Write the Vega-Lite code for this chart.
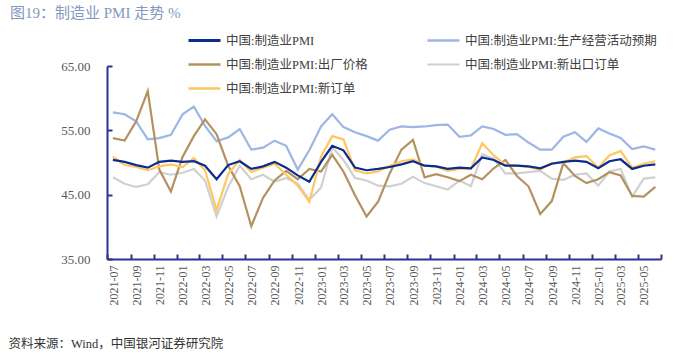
{
  "$schema": "https://vega.github.io/schema/vega-lite/v6.json",
  "width": 554,
  "height": 193,
  "autosize": {"type": "none"},
  "padding": {"left": 107, "top": 66, "right": 39, "bottom": 94},
  "background": "white",
  "title": {
    "text": "图19：制造业 PMI 走势  %",
    "anchor": "start",
    "frame": "group",
    "dx": -97,
    "dy": 2,
    "font": "Liberation Serif, Noto Sans CJK SC",
    "fontSize": 15,
    "fontWeight": "normal",
    "color": "#8497C0"
  },
  "data": {
    "values": [
      {"month": "2021-07", "中国:制造业PMI": 50.4, "中国:制造业PMI:生产经营活动预期": 57.8, "中国:制造业PMI:出厂价格": 53.8, "中国:制造业PMI:新出口订单": 47.7, "中国:制造业PMI:新订单": 50.9},
      {"month": "2021-08", "中国:制造业PMI": 50.1, "中国:制造业PMI:生产经营活动预期": 57.5, "中国:制造业PMI:出厂价格": 53.4, "中国:制造业PMI:新出口订单": 46.7, "中国:制造业PMI:新订单": 49.6},
      {"month": "2021-09", "中国:制造业PMI": 49.6, "中国:制造业PMI:生产经营活动预期": 56.4, "中国:制造业PMI:出厂价格": 56.4, "中国:制造业PMI:新出口订单": 46.2, "中国:制造业PMI:新订单": 49.3},
      {"month": "2021-10", "中国:制造业PMI": 49.2, "中国:制造业PMI:生产经营活动预期": 53.6, "中国:制造业PMI:出厂价格": 61.1, "中国:制造业PMI:新出口订单": 46.6, "中国:制造业PMI:新订单": 48.8},
      {"month": "2021-11", "中国:制造业PMI": 50.1, "中国:制造业PMI:生产经营活动预期": 53.8, "中国:制造业PMI:出厂价格": 48.9, "中国:制造业PMI:新出口订单": 48.5, "中国:制造业PMI:新订单": 49.4},
      {"month": "2021-12", "中国:制造业PMI": 50.3, "中国:制造业PMI:生产经营活动预期": 54.3, "中国:制造业PMI:出厂价格": 45.5, "中国:制造业PMI:新出口订单": 48.1, "中国:制造业PMI:新订单": 49.7},
      {"month": "2022-01", "中国:制造业PMI": 50.1, "中国:制造业PMI:生产经营活动预期": 57.5, "中国:制造业PMI:出厂价格": 50.9, "中国:制造业PMI:新出口订单": 48.4, "中国:制造业PMI:新订单": 49.3},
      {"month": "2022-02", "中国:制造业PMI": 50.2, "中国:制造业PMI:生产经营活动预期": 58.7, "中国:制造业PMI:出厂价格": 54.1, "中国:制造业PMI:新出口订单": 49.0, "中国:制造业PMI:新订单": 50.7},
      {"month": "2022-03", "中国:制造业PMI": 49.5, "中国:制造业PMI:生产经营活动预期": 55.7, "中国:制造业PMI:出厂价格": 56.7, "中国:制造业PMI:新出口订单": 47.2, "中国:制造业PMI:新订单": 48.8},
      {"month": "2022-04", "中国:制造业PMI": 47.4, "中国:制造业PMI:生产经营活动预期": 53.3, "中国:制造业PMI:出厂价格": 54.4, "中国:制造业PMI:新出口订单": 41.6, "中国:制造业PMI:新订单": 42.6},
      {"month": "2022-05", "中国:制造业PMI": 49.6, "中国:制造业PMI:生产经营活动预期": 53.9, "中国:制造业PMI:出厂价格": 49.5, "中国:制造业PMI:新出口订单": 46.2, "中国:制造业PMI:新订单": 48.2},
      {"month": "2022-06", "中国:制造业PMI": 50.2, "中国:制造业PMI:生产经营活动预期": 55.2, "中国:制造业PMI:出厂价格": 46.3, "中国:制造业PMI:新出口订单": 49.5, "中国:制造业PMI:新订单": 50.4},
      {"month": "2022-07", "中国:制造业PMI": 49.0, "中国:制造业PMI:生产经营活动预期": 52.0, "中国:制造业PMI:出厂价格": 40.1, "中国:制造业PMI:新出口订单": 47.4, "中国:制造业PMI:新订单": 48.5},
      {"month": "2022-08", "中国:制造业PMI": 49.4, "中国:制造业PMI:生产经营活动预期": 52.3, "中国:制造业PMI:出厂价格": 44.5, "中国:制造业PMI:新出口订单": 48.1, "中国:制造业PMI:新订单": 49.2},
      {"month": "2022-09", "中国:制造业PMI": 50.1, "中国:制造业PMI:生产经营活动预期": 53.4, "中国:制造业PMI:出厂价格": 47.2, "中国:制造业PMI:新出口订单": 47.0, "中国:制造业PMI:新订单": 49.8},
      {"month": "2022-10", "中国:制造业PMI": 49.2, "中国:制造业PMI:生产经营活动预期": 52.6, "中国:制造业PMI:出厂价格": 48.7, "中国:制造业PMI:新出口订单": 47.6, "中国:制造业PMI:新订单": 48.1},
      {"month": "2022-11", "中国:制造业PMI": 48.0, "中国:制造业PMI:生产经营活动预期": 48.9, "中国:制造业PMI:出厂价格": 47.4, "中国:制造业PMI:新出口订单": 46.7, "中国:制造业PMI:新订单": 46.4},
      {"month": "2022-12", "中国:制造业PMI": 47.0, "中国:制造业PMI:生产经营活动预期": 51.9, "中国:制造业PMI:出厂价格": 49.0, "中国:制造业PMI:新出口订单": 44.2, "中国:制造业PMI:新订单": 43.9},
      {"month": "2023-01", "中国:制造业PMI": 50.1, "中国:制造业PMI:生产经营活动预期": 55.6, "中国:制造业PMI:出厂价格": 48.6, "中国:制造业PMI:新出口订单": 46.1, "中国:制造业PMI:新订单": 50.9},
      {"month": "2023-02", "中国:制造业PMI": 52.6, "中国:制造业PMI:生产经营活动预期": 57.5, "中国:制造业PMI:出厂价格": 51.2, "中国:制造业PMI:新出口订单": 52.4, "中国:制造业PMI:新订单": 54.1},
      {"month": "2023-03", "中国:制造业PMI": 51.9, "中国:制造业PMI:生产经营活动预期": 55.5, "中国:制造业PMI:出厂价格": 48.6, "中国:制造业PMI:新出口订单": 50.4, "中国:制造业PMI:新订单": 53.6},
      {"month": "2023-04", "中国:制造业PMI": 49.2, "中国:制造业PMI:生产经营活动预期": 54.7, "中国:制造业PMI:出厂价格": 44.9, "中国:制造业PMI:新出口订单": 47.6, "中国:制造业PMI:新订单": 48.8},
      {"month": "2023-05", "中国:制造业PMI": 48.8, "中国:制造业PMI:生产经营活动预期": 54.1, "中国:制造业PMI:出厂价格": 41.6, "中国:制造业PMI:新出口订单": 47.2, "中国:制造业PMI:新订单": 48.3},
      {"month": "2023-06", "中国:制造业PMI": 49.0, "中国:制造业PMI:生产经营活动预期": 53.4, "中国:制造业PMI:出厂价格": 43.9, "中国:制造业PMI:新出口订单": 46.4, "中国:制造业PMI:新订单": 48.6},
      {"month": "2023-07", "中国:制造业PMI": 49.3, "中国:制造业PMI:生产经营活动预期": 55.1, "中国:制造业PMI:出厂价格": 48.3, "中国:制造业PMI:新出口订单": 46.3, "中国:制造业PMI:新订单": 49.5},
      {"month": "2023-08", "中国:制造业PMI": 49.7, "中国:制造业PMI:生产经营活动预期": 55.6, "中国:制造业PMI:出厂价格": 52.0, "中国:制造业PMI:新出口订单": 46.7, "中国:制造业PMI:新订单": 50.2},
      {"month": "2023-09", "中国:制造业PMI": 50.2, "中国:制造业PMI:生产经营活动预期": 55.5, "中国:制造业PMI:出厂价格": 53.5, "中国:制造业PMI:新出口订单": 47.8, "中国:制造业PMI:新订单": 50.5},
      {"month": "2023-10", "中国:制造业PMI": 49.5, "中国:制造业PMI:生产经营活动预期": 55.6, "中国:制造业PMI:出厂价格": 47.7, "中国:制造业PMI:新出口订单": 46.8, "中国:制造业PMI:新订单": 49.5},
      {"month": "2023-11", "中国:制造业PMI": 49.4, "中国:制造业PMI:生产经营活动预期": 55.8, "中国:制造业PMI:出厂价格": 48.2, "中国:制造业PMI:新出口订单": 46.3, "中国:制造业PMI:新订单": 49.4},
      {"month": "2023-12", "中国:制造业PMI": 49.0, "中国:制造业PMI:生产经营活动预期": 55.9, "中国:制造业PMI:出厂价格": 47.7, "中国:制造业PMI:新出口订单": 45.8, "中国:制造业PMI:新订单": 48.7},
      {"month": "2024-01", "中国:制造业PMI": 49.2, "中国:制造业PMI:生产经营活动预期": 54.0, "中国:制造业PMI:出厂价格": 47.1, "中国:制造业PMI:新出口订单": 47.2, "中国:制造业PMI:新订单": 49.0},
      {"month": "2024-02", "中国:制造业PMI": 49.1, "中国:制造业PMI:生产经营活动预期": 54.2, "中国:制造业PMI:出厂价格": 48.1, "中国:制造业PMI:新出口订单": 46.3, "中国:制造业PMI:新订单": 49.0},
      {"month": "2024-03", "中国:制造业PMI": 50.8, "中国:制造业PMI:生产经营活动预期": 55.6, "中国:制造业PMI:出厂价格": 47.4, "中国:制造业PMI:新出口订单": 51.3, "中国:制造业PMI:新订单": 53.0},
      {"month": "2024-04", "中国:制造业PMI": 50.4, "中国:制造业PMI:生产经营活动预期": 55.2, "中国:制造业PMI:出厂价格": 49.1, "中国:制造业PMI:新出口订单": 50.6, "中国:制造业PMI:新订单": 51.1},
      {"month": "2024-05", "中国:制造业PMI": 49.5, "中国:制造业PMI:生产经营活动预期": 54.3, "中国:制造业PMI:出厂价格": 50.4, "中国:制造业PMI:新出口订单": 48.3, "中国:制造业PMI:新订单": 49.6},
      {"month": "2024-06", "中国:制造业PMI": 49.5, "中国:制造业PMI:生产经营活动预期": 54.4, "中国:制造业PMI:出厂价格": 47.9, "中国:制造业PMI:新出口订单": 48.3, "中国:制造业PMI:新订单": 49.5},
      {"month": "2024-07", "中国:制造业PMI": 49.4, "中国:制造业PMI:生产经营活动预期": 53.1, "中国:制造业PMI:出厂价格": 46.3, "中国:制造业PMI:新出口订单": 48.5, "中国:制造业PMI:新订单": 49.3},
      {"month": "2024-08", "中国:制造业PMI": 49.1, "中国:制造业PMI:生产经营活动预期": 52.0, "中国:制造业PMI:出厂价格": 42.0, "中国:制造业PMI:新出口订单": 48.7, "中国:制造业PMI:新订单": 48.9},
      {"month": "2024-09", "中国:制造业PMI": 49.8, "中国:制造业PMI:生产经营活动预期": 52.0, "中国:制造业PMI:出厂价格": 44.0, "中国:制造业PMI:新出口订单": 47.5, "中国:制造业PMI:新订单": 49.9},
      {"month": "2024-10", "中国:制造业PMI": 50.1, "中国:制造业PMI:生产经营活动预期": 54.0, "中国:制造业PMI:出厂价格": 49.9, "中国:制造业PMI:新出口订单": 47.3, "中国:制造业PMI:新订单": 50.0},
      {"month": "2024-11", "中国:制造业PMI": 50.3, "中国:制造业PMI:生产经营活动预期": 54.7, "中国:制造业PMI:出厂价格": 47.9, "中国:制造业PMI:新出口订单": 48.1, "中国:制造业PMI:新订单": 50.8},
      {"month": "2024-12", "中国:制造业PMI": 50.1, "中国:制造业PMI:生产经营活动预期": 53.2, "中国:制造业PMI:出厂价格": 46.8, "中国:制造业PMI:新出口订单": 48.3, "中国:制造业PMI:新订单": 51.0},
      {"month": "2025-01", "中国:制造业PMI": 49.1, "中国:制造业PMI:生产经营活动预期": 55.3, "中国:制造业PMI:出厂价格": 47.4, "中国:制造业PMI:新出口订单": 46.4, "中国:制造业PMI:新订单": 49.2},
      {"month": "2025-02", "中国:制造业PMI": 50.2, "中国:制造业PMI:生产经营活动预期": 54.5, "中国:制造业PMI:出厂价格": 48.5, "中国:制造业PMI:新出口订单": 48.6, "中国:制造业PMI:新订单": 51.1},
      {"month": "2025-03", "中国:制造业PMI": 50.5, "中国:制造业PMI:生产经营活动预期": 53.8, "中国:制造业PMI:出厂价格": 48.0, "中国:制造业PMI:新出口订单": 49.0, "中国:制造业PMI:新订单": 51.8},
      {"month": "2025-04", "中国:制造业PMI": 49.0, "中国:制造业PMI:生产经营活动预期": 52.1, "中国:制造业PMI:出厂价格": 44.8, "中国:制造业PMI:新出口订单": 44.7, "中国:制造业PMI:新订单": 49.2},
      {"month": "2025-05", "中国:制造业PMI": 49.5, "中国:制造业PMI:生产经营活动预期": 52.5, "中国:制造业PMI:出厂价格": 44.7, "中国:制造业PMI:新出口订单": 47.5, "中国:制造业PMI:新订单": 49.8},
      {"month": "2025-06", "中国:制造业PMI": 49.7, "中国:制造业PMI:生产经营活动预期": 52.0, "中国:制造业PMI:出厂价格": 46.2, "中国:制造业PMI:新出口订单": 47.7, "中国:制造业PMI:新订单": 50.2}
    ]
  },
  "transform": [
    {"fold": ["中国:制造业PMI:新出口订单", "中国:制造业PMI:生产经营活动预期", "中国:制造业PMI:出厂价格", "中国:制造业PMI:新订单", "中国:制造业PMI"], "as": ["series", "value"]}
  ],
  "mark": {"type": "line", "strokeWidth": 2.2},
  "encoding": {
    "x": {
      "field": "month",
      "timeUnit": "utcyearmonth",
      "type": "temporal",
      "bandPosition": 0.5,
      "scale": {
        "type": "utc",
        "domain": [{"year": 2021, "month": 7, "date": 1, "utc": true}, {"year": 2025, "month": 7, "date": 1, "utc": true}],
        "nice": false
      },
      "axis": {
        "title": "资料来源：Wind，中国银河证券研究院",
        "titleX": -99,
        "titleY": 84,
        "titleAlign": "left",
        "titleAnchor": "start",
        "titleBaseline": "middle",
        "titleAngle": 0,
        "titleFont": "Liberation Serif, Noto Sans CJK SC",
        "titleFontSize": 12.5,
        "titleFontWeight": "normal",
        "titleColor": "#333333",
        "tickCount": {"interval": "month", "step": 2},
        "labelExpr": "utcFormat(datum.value, '%Y-%m') == '2025-07' ? '' : utcFormat(datum.value, '%Y-%m')",
        "labelAngle": 270,
        "labelOffset": 6,
        "labelFlush": false,
        "labelOverlap": false,
        "labelFont": "Liberation Serif",
        "labelFontSize": 12,
        "labelColor": "#595959",
        "labelPadding": 11,
        "tickSize": -5,
        "tickWidth": 2,
        "tickColor": "#2E3192",
        "domainColor": "#2E3192",
        "domainWidth": 2,
        "grid": false
      }
    },
    "y": {
      "field": "value",
      "type": "quantitative",
      "scale": {"domain": [35, 65], "nice": false, "zero": false},
      "axis": {
        "title": null,
        "values": [35, 45, 55, 65],
        "format": ".2f",
        "labelFont": "Liberation Serif",
        "labelFontSize": 13,
        "labelColor": "#595959",
        "labelPadding": 22,
        "tickSize": -5,
        "tickWidth": 2,
        "tickColor": "#2E3192",
        "domainColor": "#2E3192",
        "domainWidth": 2,
        "grid": false
      }
    },
    "color": {
      "field": "series",
      "type": "nominal",
      "scale": {
        "domain": ["中国:制造业PMI", "中国:制造业PMI:出厂价格", "中国:制造业PMI:新订单", "中国:制造业PMI:生产经营活动预期", "中国:制造业PMI:新出口订单"],
        "range": ["#0B2C8F", "#B39260", "#FFC75F", "#9DB6E6", "#D0D0D0"]
      },
      "legend": {
        "title": null,
        "orient": "none",
        "legendX": 80,
        "legendY": -43,
        "columns": 2,
        "columnPadding": 54,
        "rowPadding": -7,
        "padding": 0,
        "symbolType": "stroke",
        "symbolSize": 1024,
        "symbolStrokeWidth": 2.5,
        "labelFont": "Liberation Serif, Noto Sans CJK SC",
        "labelFontSize": 12.5,
        "labelColor": "#404040",
        "labelOffset": 4,
        "labelLimit": 300
      }
    },
    "strokeWidth": {
      "field": "series",
      "type": "nominal",
      "scale": {
        "domain": ["中国:制造业PMI", "中国:制造业PMI:出厂价格", "中国:制造业PMI:新订单", "中国:制造业PMI:生产经营活动预期", "中国:制造业PMI:新出口订单"],
        "range": [2.8, 2.2, 2.2, 2.2, 2.2]
      },
      "legend": null
    }
  },
  "config": {"view": {"stroke": null}}
}
